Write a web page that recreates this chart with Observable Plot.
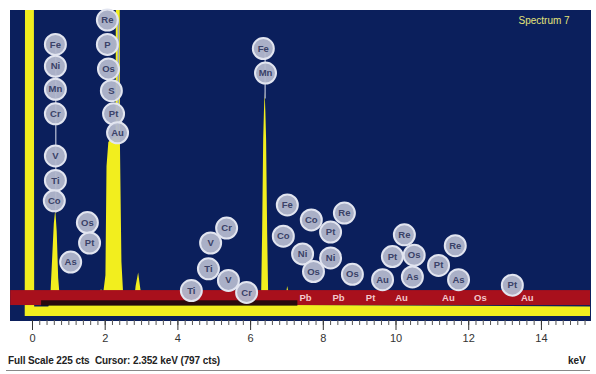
<!DOCTYPE html>
<html><head><meta charset="utf-8">
<script src="https://cdn.jsdelivr.net/npm/d3@7"></script>
<script src="https://cdn.jsdelivr.net/npm/@observablehq/plot@0.6"></script>
<style>
body{margin:0;background:#fff;font-family:"Liberation Sans",Arial,sans-serif;}
#wrap{width:596px;height:374px;overflow:hidden;position:relative;}
#cap{position:relative;height:24px;width:596px;}
#cap .l{position:absolute;left:8px;top:5px;font-size:10px;color:#222;font-weight:bold;letter-spacing:-0.1px;}
#cap .r{position:absolute;left:568px;top:5px;font-size:10px;color:#222;font-weight:bold;}
#cap .u{position:absolute;left:6px;right:6px;top:20px;height:1px;background:#888;}
</style></head>
<body><div id="wrap"><div id="chart"></div>
<div id="cap"><span class="l">Full Scale 225 cts&nbsp; Cursor: 2.352 keV (797 cts)</span><span class="r">keV</span><div class="u"></div></div></div>
<script>
// Spectrum (keV, counts)
const spectrumKeV    = [-0.2,-0.19,0.05,0.06,0.45,0.5,0.55,0.6,0.64,0.68,0.72,0.78,1.0,1.3,1.5,1.6,1.65,1.75,1.8,1.9,1.95,2.02,2.05,2.1,2.25,2.3,2.31,2.41,2.42,2.46,2.52,2.6,2.8,2.85,2.92,2.98,3.05,4.5,4.9,5.4,5.9,6.3,6.33,6.36,6.38,6.40,6.42,6.44,6.47,6.5,6.95,7.02,7.08,7.15,15.4];
const spectrumCounts = [0,300,300,7,7,12,40,68,78,62,28,8,8,9,8,14,10,18,12,20,15,30,110,128,132,132,300,300,125,40,10,8,9,22,32,20,9,8,10,10,9,10,60,130,150,165,150,130,60,10,10,22,14,8,7];

// Element labels (circles)
const labelNames  = ["Fe","Ni","Mn","Cr","V","Ti","Co","Re","P","Os","S","Pt","Au","Fe","Mn","Os","Pt","As","Cr","V","Ti","V","Ti","Cr","Fe","Co","Co","Re","Pt","Ni","Ni","Os","Os","Au","Pt","Re","Os","As","Pt","Re","As","Pt"];
const labelKeV    = [0.63,0.63,0.63,0.63,0.63,0.63,0.6,2.06,2.06,2.09,2.17,2.23,2.34,6.35,6.41,1.51,1.57,1.05,5.34,4.9,4.84,5.39,4.37,5.89,7.01,6.9,7.67,8.58,8.2,7.43,8.2,7.73,8.8,9.63,9.9,10.23,10.5,10.45,11.17,11.63,11.72,13.2];
const labelCounts = [200,184,167,149,118,100,85,218,200,182,166,149,135,197,179,69,54,40,65,54,35,26.5,19,17.6,82,59,71,76,62,46,43,33,31,27,44,60,45,29,37.5,52,27,23];

// Labels inside the red label bar
const barNames = ["Pb","Pb","Pt","Au","Au","Os","Au"];
const barKeV   = [7.51,8.42,9.3,10.15,11.44,12.32,13.61];
const barCount = 13.5;

// Leader lines from label columns to peaks
const leaderKeV  = [0.64,2.36,6.40];
const leaderLow  = [76,130,160];
const leaderHigh = [200,218,197];

// Label bar and noise band (count ranges)
const redBar   = {x1:-0.6, x2:15.4, y1:8, y2:19};
const blackBar = {x1:0.25, x2:7.3, y1:7.5, y2:11.5};

const spectrum = spectrumKeV.map((k,i)=>({k, c:spectrumCounts[i]}));
const labels = labelNames.map((n,i)=>({n, k:labelKeV[i], c:labelCounts[i]}));
const bar = barNames.map((n,i)=>({n, k:barKeV[i], c:barCount}));
const leaders = leaderKeV.map((k,i)=>({k, y1:leaderLow[i], y2:leaderHigh[i]}));

const majorTicks = d3.range(0, 15, 2);
const minorTicks = d3.range(0, 77).map(i => +(i*0.2).toFixed(1)).filter(v => v <= 15.3);

const chart = Plot.plot({
  width: 596, height: 350,
  marginLeft: 10, marginRight: 6, marginTop: 10, marginBottom: 30,
  x: {domain: [-0.605, 15.35]},
  y: {domain: [-3, 225], axis: null},
  style: {fontFamily: "Liberation Sans, Arial, sans-serif", background: "#fff"},
  marks: [
    Plot.frame({fill: "#0b1f5c", stroke: "#0b1f5c"}),
    Plot.areaY(spectrum, {x: "k", y1: 0, y2: "c", fill: "#f2ee1e", clip: true, curve: "linear"}),
    Plot.rect([redBar], {x1: "x1", x2: "x2", y1: "y1", y2: "y2", fill: "#a8101c", clip: true}),
    Plot.rect([blackBar], {x1: "x1", x2: "x2", y1: "y1", y2: "y2", fill: "#0a0a0a", opacity: 0.8}),
    Plot.ruleX(leaders, {x: "k", y1: "y1", y2: "y2", stroke: "#9aa3c0", strokeWidth: 1.5}),
    Plot.dot(labels, {x: "k", y: "c", r: 10.5, fill: "#b3b8cc", stroke: "#e2e5f0", strokeWidth: 2, fillOpacity: 0.95}),
    Plot.text(labels, {x: "k", y: "c", text: "n", fill: "#3a4268", fontSize: 9.5, fontWeight: "bold"}),
    Plot.text(bar, {x: "k", y: "c", text: "n", fill: "#f3c8cc", fontSize: 9.5, fontWeight: "bold"}),
    Plot.text(["Spectrum 7"], {x: 13.37, y: 217.6, text: d => d, textAnchor: "start", fill: "#e4e47a", fontSize: 10}),
    Plot.axisX({ticks: minorTicks, tickSize: 5, tickFormat: () => "", stroke: "#555", label: null}),
    Plot.axisX({ticks: majorTicks, tickSize: 10, tickPadding: 4, fontSize: 11, fill: "#333", stroke: "#333", label: null, tickFormat: d3.format("d")})
  ]
});
d3.select(chart).selectAll('g[aria-label="dot"]').style("filter", "blur(0.7px)");
document.getElementById("chart").appendChild(chart);
</script>
</body></html>
